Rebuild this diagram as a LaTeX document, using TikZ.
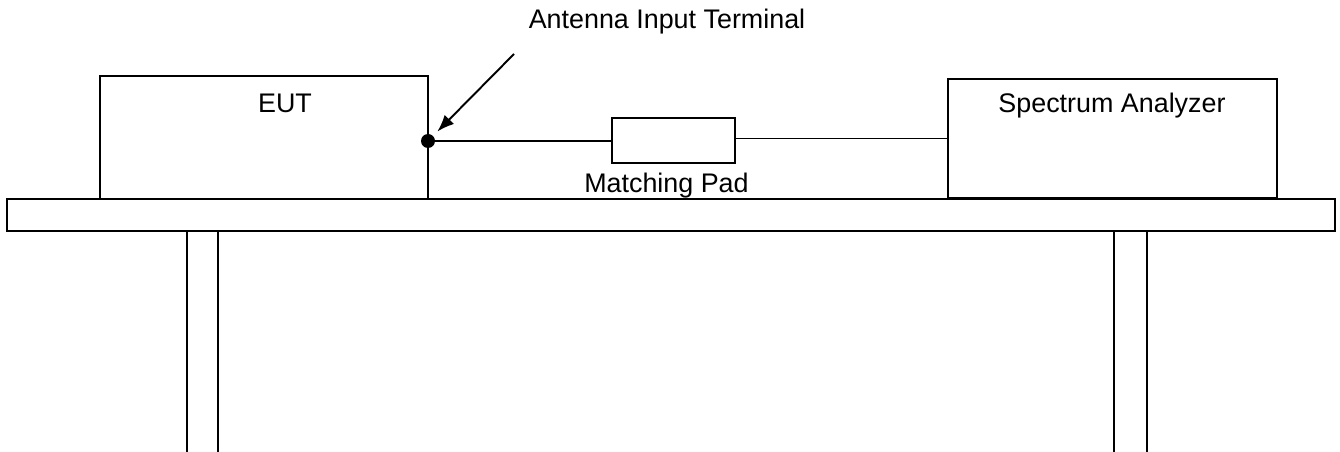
\documentclass[tikz,border=0pt]{standalone}
\usepackage{fontspec}
\setmainfont{Liberation Sans}
\usepackage{tikz}
\usetikzlibrary{calc,positioning,arrows.meta}

\begin{document}
\begin{tikzpicture}[x=0.02cm,y=-0.02cm,line width=1.1pt,
                      box/.style={rectangle,draw,inner sep=0pt},
                      txt/.style={inner sep=1pt,font=\fontsize{15.3}{18}\selectfont}]
    \useasboundingbox (0,0) rectangle (1340,452);
    % table
    \draw (7,199) rectangle (1335,231);
    \draw (187,452) -- (187,231) -- (218,231) -- (218,452);
    \draw (1114,452) -- (1114,231) -- (1147,231) -- (1147,452);
    % equipment
    \node[box,minimum width=6.56cm,minimum height=2.46cm] (eut) at (264,137.5) {};
    \node[txt] (euttxt) at (285,103) {EUT};
    \node[box,minimum width=6.58cm,minimum height=2.38cm] (sa) at (1112.5,138.5) {};
    \node[txt] (satxt) at (1112,106) {Spectrum Analyzer};
    \node[box,minimum width=2.46cm,minimum height=0.9cm] (pad) at (673.5,140.5) {};
    \node[txt,below=3.5pt of pad,xshift=-4pt] (padtxt) {Matching Pad};
    \node[circle,fill,inner sep=0pt,minimum size=0.28cm] (term) at (428,141) {};
    \node[txt] (termtxt) at (667,22) {Antenna Input Terminal};
    \coordinate (from) at (514,54);
    \draw (term.center) -- (term.center -| pad.west);
    \draw (pad.east |- sa.west) -- (sa.west);
    \draw[-{Latex[length=0.34cm,width=0.26cm]},shorten >=3pt] (from) -- (term);
  \end{tikzpicture}
\end{document}
